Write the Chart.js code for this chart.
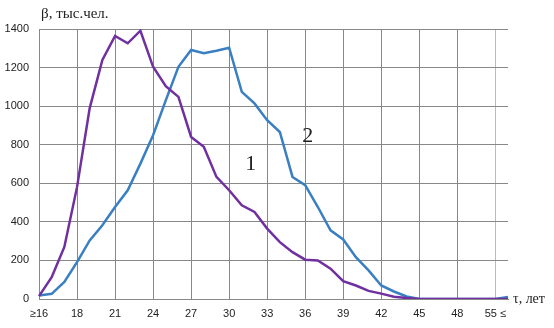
<!DOCTYPE html>
<html>
<head>
<meta charset="utf-8">
<script src="https://cdn.jsdelivr.net/npm/chart.js@4/dist/chart.umd.min.js"></script>
<style>
  html, body { margin: 0; padding: 0; background: #fff; }
  #wrap { width: 554px; height: 328px; }
</style>
</head>
<body>
<div id="wrap"><canvas id="myChart" width="554" height="328"></canvas></div>
<script>
const categories = ['≥16', '16', '17', '18', '19', '20', '21', '22', '23', '24', '25', '26', '27', '28', '29',
  '30', '31', '32', '33', '34', '35', '36', '37', '38', '39', '40', '41', '42', '43', '44', '45', '46', '47',
  '48', '49', '50', '55 ≤', '']
const series1 = [15, 113, 270, 580, 990, 1240, 1364, 1326, 1391, 1204, 1104, 1048, 840, 789, 633, 564, 486,
  451, 365, 295, 243, 204, 200, 157, 92, 70, 42, 28, 12, 5, 0, 0, 0, 0, 0, 0, 0, 0]
const series2 = [18, 27, 88, 191, 304, 382, 477, 564, 702, 849, 1030, 1204, 1291, 1274, 1287, 1303, 1074,
  1014, 927, 866, 633, 590, 477, 356, 309, 217, 148, 70, 39, 13, 0, 0, 0, 0, 0, 0, 0, 10]
const yTicks = [0, 200, 400, 600, 800, 1000, 1200, 1400]

const serif = '"Liberation Serif", "DejaVu Serif", serif'
const sans = '"Liberation Sans", Arial, sans-serif'

// texts drawn on top: axis names and curve numbers
const textPlugin = {
  id: 'texts',
  afterDraw(chart) {
    const { ctx } = chart
    const x = chart.scales.x
    const y = chart.scales.y
    ctx.save()
    ctx.fillStyle = '#222'
    ctx.textBaseline = 'middle'
    ctx.font = '15px ' + serif
    ctx.textAlign = 'left'
    ctx.fillText('β, тыс.чел.', 41, 14)
    ctx.font = '14px ' + serif
    ctx.fillText('τ, лет', 513, 299)
    ctx.font = '22px ' + serif
    ctx.textAlign = 'center'
    ctx.fillText('1', x.getPixelForValue(16.7), y.getPixelForValue(700))
    ctx.fillText('2', x.getPixelForValue(21.2), y.getPixelForValue(845))
    ctx.restore()
  },
}

;(() => {
  const ctx = document.getElementById('myChart').getContext('2d')
  new Chart(ctx, {
    type: 'line',
    data: {
      labels: categories,
      datasets: [
        {
          label: '1',
          data: series1,
          borderColor: '#7030a0',
          borderWidth: 2.5,
          pointRadius: 0,
          tension: 0,
        },
        {
          label: '2',
          data: series2,
          borderColor: '#3a7fc2',
          borderWidth: 2.5,
          pointRadius: 0,
          tension: 0,
        },
      ],
    },
    options: {
      responsive: false,
      animation: false,
      layout: { padding: { top: 29, right: 46, left: 0, bottom: 0 } },
      plugins: { legend: { display: false }, tooltip: { enabled: false } },
      scales: {
        x: {
          offset: false,
          afterFit: (scale) => { scale.height = 29 },
          border: { color: '#888', width: 1 },
          grid: {
            drawTicks: false,
            lineWidth: 1,
            color: (c) => {
              if (c.index === 36) return '#bbb'
              return c.index % 3 === 0 && c.index > 0 ? '#888' : 'rgba(0,0,0,0)'
            },
          },
          ticks: {
            autoSkip: false,
            maxRotation: 0,
            padding: 8,
            color: '#222',
            font: { family: sans, size: 11 },
            callback: (v, i) => (i % 3 === 0 ? categories[i] : ''),
          },
        },
        y: {
          min: 0,
          max: 1400,
          afterFit: (scale) => { scale.width = 39 },
          afterBuildTicks: (scale) => { scale.ticks = yTicks.map((v) => ({ value: v })) },
          border: { color: '#888', width: 1 },
          grid: { drawTicks: false, color: '#888', lineWidth: 1 },
          ticks: {
            padding: 10,
            color: '#222',
            font: { family: sans, size: 11 },
            callback: (v) => String(v),
          },
        },
      },
    },
    plugins: [textPlugin],
  })
})()
</script>
</body>
</html>
